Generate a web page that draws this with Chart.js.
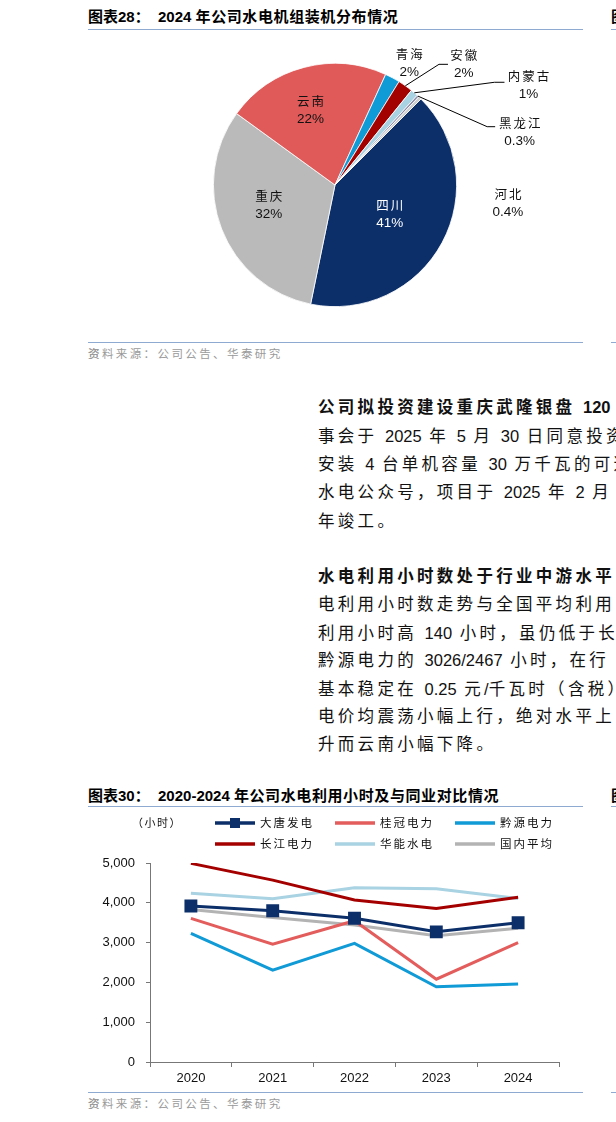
<!DOCTYPE html>
<html>
<head>
<meta charset="utf-8">
<script src="https://cdn.jsdelivr.net/npm/chart.js@4.4.1/dist/chart.umd.min.js"></script>
<style>
html, body { margin: 0; padding: 0; background: #fff; }
body { width: 616px; height: 1122px; position: relative; overflow: hidden; font-family: "Liberation Sans", "Noto Sans CJK SC", sans-serif; }
.ttl { position: absolute; left: 88px; font-size: 15px; font-weight: bold; line-height: 20px; white-space: nowrap; color: #000; }
.ttl .c { letter-spacing: 0.6px; }
.frag { position: absolute; left: 611px; white-space: nowrap; }
.rule { position: absolute; height: 1px; background: #8eaad0; }
.src { position: absolute; left: 88px; font-size: 11.5px; line-height: 16px; color: #9a9a9a; letter-spacing: 2.4px; white-space: nowrap; }
.txt { position: absolute; left: 318px; font-size: 16.5px; line-height: 22px; white-space: nowrap; letter-spacing: 3.3px; color: #111; font-family: "Noto Sans CJK SC", sans-serif; }
.txt .n { font-family: "Liberation Sans", sans-serif; letter-spacing: 0; word-spacing: 3px; }
.txt.b { font-weight: bold; }
canvas { position: absolute; }
</style>
</head>
<body>

<!-- figure 28 -->
<div class="ttl" style="top:7px">图表28：&nbsp; 2024 <span class="c">年公司水电机组装机分布情况</span></div>
<div class="rule" style="left:88px;top:29px;width:495px"></div>
<div class="ttl frag" style="top:7px">图</div>
<div class="rule" style="left:611px;top:29px;width:10px"></div>
<canvas id="pieChart" width="495" height="305" style="left:88px;top:35px"></canvas>
<div class="rule" style="left:88px;top:342px;width:495px"></div>
<div class="rule" style="left:611px;top:342px;width:10px"></div>
<div class="src" style="top:346px">资料来源：公司公告、华泰研究</div>
<div class="src frag" style="top:346px">资</div>

<!-- texte -->
<div class="txt b" style="top:395px">公司拟投资建设重庆武隆银盘<span class="n"> 120</span></div>
<div class="txt" style="top:424px">事会于<span class="n"> 2025 </span>年<span class="n"> 5 </span>月<span class="n"> 30 </span>日同意投资</div>
<div class="txt" style="top:452px">安装<span class="n"> 4 </span>台单机容量<span class="n"> 30 </span>万千瓦的可逆</div>
<div class="txt" style="top:480px">水电公众号，项目于<span class="n"> 2025 </span>年<span class="n"> 2 </span>月</div>
<div class="txt" style="top:509px">年竣工。</div>

<div class="txt b" style="top:564px">水电利用小时数处于行业中游水平</div>
<div class="txt" style="top:592px">电利用小时数走势与全国平均利用</div>
<div class="txt" style="top:621px">利用小时高<span class="n"> 140 </span>小时，虽仍低于长</div>
<div class="txt" style="top:648px">黔源电力的<span class="n"> 3026/2467 </span>小时，在行</div>
<div class="txt" style="top:677px">基本稳定在<span class="n"> 0.25 </span>元<span class="n">/</span>千瓦时（含税）</div>
<div class="txt" style="top:704px">电价均震荡小幅上行，绝对水平上</div>
<div class="txt" style="top:732px">升而云南小幅下降。</div>

<!-- figure 30 -->
<div class="ttl" style="top:786px">图表30：&nbsp; 2020-2024 <span class="c">年公司水电利用小时及与同业对比情况</span></div>
<div class="rule" style="left:88px;top:806px;width:495px"></div>
<div class="ttl frag" style="top:786px">图</div>
<div class="rule" style="left:611px;top:806px;width:10px"></div>
<canvas id="lineChart" width="495" height="280" style="left:88px;top:810px"></canvas>
<div class="rule" style="left:88px;top:1092px;width:495px"></div>
<div class="rule" style="left:611px;top:1092px;width:10px"></div>
<div class="src" style="top:1096px">资料来源：公司公告、华泰研究</div>
<div class="src frag" style="top:1096px">资</div>

<script>
// répartition des capacités 2024 (%)
const regions = ['四川', '重庆', '云南', '青海', '安徽', '内蒙古', '黑龙江', '河北'];
const shares = [41, 32, 22, 2, 2, 1, 0.3, 0.4];
const regionColors = ['#0c2f6a', '#bababa', '#e05a5a', '#109ad6', '#a30000', '#a8d2e2', '#8a8ca8', '#cfcfcf'];

// heures d'utilisation (小时)
const years = ['2020', '2021', '2022', '2023', '2024'];
const datang = [3920, 3800, 3610, 3270, 3500];
const guiguan = [3610, 2960, 3550, 2080, 3000];
const qianyuan = [3230, 2310, 2980, 1890, 1960];
const changjiang = [4990, 4570, 4070, 3860, 4140];
const huaneng = [4240, 4100, 4380, 4350, 4110];
const national = [3830, 3630, 3440, 3170, 3360];
const yTicks = [0, 1000, 2000, 3000, 4000, 5000];

// placement des étiquettes du camembert : décalage d'angle (deg) et distance (x rayon)
const labelTurn = [-0.5, 4, -3.3, 3.3, 11.5, 22, 31, 51.7];
const labelDist = [0.51, 0.57, 0.65, 1.17, 1.45, 1.79, 1.58, 1.43];
// lignes de rappel : [distance du coude, décalage d'angle, longueur horizontale]
const leaders = [null, null, null, null, [1.31, 5.4, 9], [1.56, 16.5, 10], [1.34, 26, 8], null];

const CJK = '"Noto Sans CJK SC", sans-serif';
const LAT = '"Liberation Sans", Arial, sans-serif';

function pctText(v) {
    return (v < 1 ? v.toFixed(1) : String(v)) + '%';
}

const pieLabels = {
    id: 'pieLabels',
    afterDatasetsDraw(chart) {
        const ctx = chart.ctx;
        const arcs = chart.getDatasetMeta(0).data;
        ctx.save();
        arcs.forEach((arc, i) => {
            const p = arc.getProps(['x', 'y', 'startAngle', 'endAngle', 'outerRadius'], true);
            const mid = (p.startAngle + p.endAngle) / 2;
            const a = mid + labelTurn[i] * Math.PI / 180;
            const r = p.outerRadius * labelDist[i];
            const lx = p.x + Math.cos(a) * r;
            const ly = p.y + Math.sin(a) * r;

            // ligne de rappel
            const ld = leaders[i];
            if (ld) {
                const sx = p.x + Math.cos(mid) * p.outerRadius;
                const sy = p.y + Math.sin(mid) * p.outerRadius;
                const ea = mid + ld[1] * Math.PI / 180;
                const ex = p.x + Math.cos(ea) * p.outerRadius * ld[0];
                const ey = p.y + Math.sin(ea) * p.outerRadius * ld[0];
                ctx.strokeStyle = '#000';
                ctx.lineWidth = 1;
                ctx.beginPath();
                ctx.moveTo(sx, sy);
                ctx.lineTo(ex, ey);
                ctx.lineTo(ex + ld[2], ey);
                ctx.stroke();
            }

            ctx.fillStyle = i === 0 ? '#fff' : '#111';
            ctx.textAlign = 'center';
            ctx.textBaseline = 'middle';
            ctx.font = '12.5px ' + CJK;
            ctx.letterSpacing = '2px';
            ctx.fillText(regions[i], lx + 1, ly - 9);
            ctx.font = '13.5px ' + LAT;
            ctx.letterSpacing = '0px';
            ctx.fillText(pctText(shares[i]), lx, ly + 9);
        });
        ctx.restore();
    }
};

new Chart(document.getElementById('pieChart').getContext('2d'), {
    type: 'pie',
    data: {
        labels: regions,
        datasets: [{
            data: shares,
            backgroundColor: regionColors,
            borderColor: '#fff',
            borderWidth: 0.8
        }]
    },
    options: {
        responsive: false,
        animation: false,
        rotation: 45,
        layout: { padding: { top: 28, bottom: 33, left: 125, right: 126 } },
        plugins: { legend: { display: false }, tooltip: { enabled: false } }
    },
    plugins: [pieLabels]
});

// légende dessinée à la main (3 colonnes x 2 lignes)
const lineLegend = {
    id: 'lineLegend',
    afterDraw(chart) {
        const ctx = chart.ctx;
        ctx.save();
        chart.data.datasets.forEach((ds, i) => {
            const col = i % 3, row = Math.floor(i / 3);
            const x = 127 + col * 120;
            const y = 13 + row * 21;
            ctx.strokeStyle = ds.borderColor;
            ctx.lineWidth = 3.5;
            ctx.beginPath();
            ctx.moveTo(x, y);
            ctx.lineTo(x + 40, y);
            ctx.stroke();
            if (ds.pointRadius > 0) {
                ctx.fillStyle = ds.borderColor;
                ctx.fillRect(x + 15, y - 5, 10, 10);
            }
            ctx.fillStyle = '#111';
            ctx.font = '11.5px ' + CJK;
            ctx.letterSpacing = '2px';
            ctx.textAlign = 'left';
            ctx.textBaseline = 'middle';
            ctx.fillText(ds.label, x + 45, y);
        });
        ctx.font = '11px ' + CJK;
        ctx.letterSpacing = '1.5px';
        ctx.textAlign = 'center';
        ctx.fillText('（小时）', 69, 13);
        ctx.restore();
    }
};

function lineSet(label, values, color, marker) {
    return {
        label: label,
        data: values,
        borderColor: color,
        backgroundColor: color,
        borderWidth: 3,
        fill: false,
        tension: 0,
        pointStyle: 'rect',
        pointRadius: marker ? 7 : 0,
        pointHoverRadius: marker ? 7 : 0
    };
}

new Chart(document.getElementById('lineChart').getContext('2d'), {
    type: 'line',
    data: {
        labels: years,
        datasets: [
            lineSet('大唐发电', datang, '#0c2f6a', true),
            lineSet('桂冠电力', guiguan, '#e35d5d', false),
            lineSet('黔源电力', qianyuan, '#109ad6', false),
            lineSet('长江电力', changjiang, '#a50000', false),
            lineSet('华能水电', huaneng, '#a9d2e2', false),
            lineSet('国内平均', national, '#b3b3b3', false)
        ]
    },
    options: {
        responsive: false,
        animation: false,
        layout: { padding: { top: 53, bottom: 0, left: 0, right: 24 } },
        plugins: { legend: { display: false }, tooltip: { enabled: false } },
        scales: {
            x: {
                offset: true,
                grid: { display: true, drawOnChartArea: false, drawTicks: true, tickLength: 5, offset: true, color: '#777' },
                border: { display: true, color: '#777', width: 1 },
                ticks: { color: '#111', padding: 4, font: { family: LAT, size: 13 } },
                afterFit: s => { s.height = 28; }
            },
            y: {
                min: 0,
                max: 5000,
                afterBuildTicks: s => { s.ticks = yTicks.map(v => ({ value: v })); },
                grid: { display: true, drawOnChartArea: false, drawTicks: true, tickLength: 4, color: '#777' },
                border: { display: true, color: '#777', width: 1 },
                ticks: {
                    color: '#111',
                    padding: 11,
                    font: { family: LAT, size: 13 },
                    callback: v => v.toLocaleString('en-US')
                },
                afterFit: s => { s.width = 62; }
            }
        }
    },
    plugins: [lineLegend]
});
</script>
</body>
</html>
